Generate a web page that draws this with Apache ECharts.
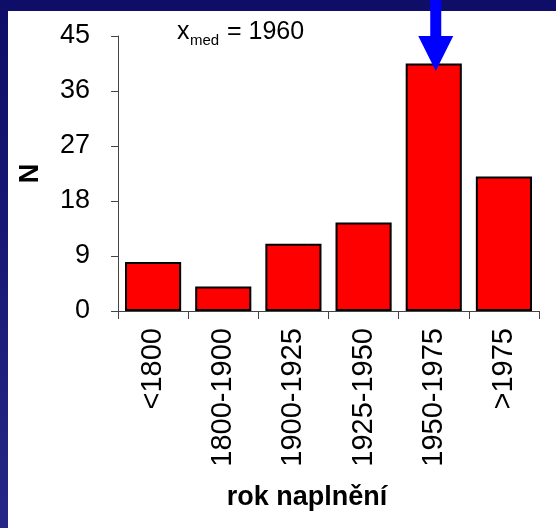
<!DOCTYPE html>
<html>
<head>
<meta charset="utf-8">
<script src="https://cdn.jsdelivr.net/npm/echarts@6/dist/echarts.min.js"></script>
<style>
html,body{margin:0;padding:0;width:556px;height:528px;overflow:hidden;}
body{background:linear-gradient(to bottom,#0e0e69 0%,#1a1a76 50%,#272787 100%);position:relative;}
#panel{position:absolute;left:8px;top:11px;width:548px;height:517px;background:#fff;}
#chart{position:absolute;left:0;top:0;width:556px;height:528px;}
</style>
</head>
<body>
<div id="panel"></div>
<div id="chart"></div>
<script>
const categories = ['<1800', '1800-1900', '1900-1925', '1925-1950', '1950-1975', '>1975'];
const counts = [8, 4, 11, 14.5, 40.5, 22];
const yTicks = { min: 0, max: 45, interval: 9 };
const medianCategory = '1950-1975';
const medianText = '= 1960';

const FONT = "'Liberation Sans', Arial, sans-serif";
const chart = echarts.init(document.getElementById('chart'), null, { renderer: 'canvas' });

const option = {
  backgroundColor: 'transparent',
  animation: false,
  grid: { left: 118, right: 17, top: 36, bottom: 217, containLabel: false },
  xAxis: {
    type: 'category',
    data: categories,
    boundaryGap: true,
    axisLine: { lineStyle: { color: '#444', width: 1 } },
    axisTick: { show: true, length: 8, alignWithLabel: false, lineStyle: { color: '#444' } },
    axisLabel: { rotate: 90, margin: 17, fontSize: 29, color: '#000', fontFamily: FONT, interval: 0 }
  },
  yAxis: {
    type: 'value',
    min: yTicks.min, max: yTicks.max, interval: yTicks.interval,
    name: 'N',
    nameLocation: 'middle',
    nameGap: 74,
    nameRotate: 90,
    nameTextStyle: { fontSize: 27, fontWeight: 'bold', color: '#000', fontFamily: FONT },
    axisLine: { show: true, lineStyle: { color: '#444', width: 1 } },
    axisTick: { show: true, length: 7, lineStyle: { color: '#444' } },
    splitLine: { show: false },
    axisLabel: { margin: 28, fontSize: 27, color: '#000', fontFamily: FONT }
  },
  series: [{
    type: 'bar',
    data: counts,
    barCategoryGap: '20%',
    itemStyle: { color: '#ff0000', borderColor: '#000', borderWidth: 2 }
  }]
};
chart.setOption(option);

const ax = chart.convertToPixel({ xAxisIndex: 0 }, medianCategory) + 2;
chart.setOption({
  graphic: [
    { type: 'text', x: 177, y: 32, z: 10,
      style: { text: 'x', fontSize: 25, fontFamily: FONT, fill: '#000', textAlign: 'left', textVerticalAlign: 'middle', verticalAlign: 'middle' } },
    { type: 'text', x: 190, y: 41, z: 10,
      style: { text: 'med', fontSize: 15, fontFamily: FONT, fill: '#000', textAlign: 'left', textVerticalAlign: 'middle', verticalAlign: 'middle' } },
    { type: 'text', x: 227, y: 32.5, z: 10,
      style: { text: medianText, fontSize: 25, fontFamily: FONT, fill: '#000', textAlign: 'left', textVerticalAlign: 'middle', verticalAlign: 'middle' } },
    { type: 'text', x: 307, y: 497.5, z: 10,
      style: { text: 'rok naplnění', fontSize: 27, fontWeight: 'bold', fontFamily: FONT, fill: '#000', textAlign: 'center', textVerticalAlign: 'middle', verticalAlign: 'middle' } },
    { type: 'polygon', z: 100,
      shape: { points: [
        [ax - 5.5, 0], [ax + 5.5, 0], [ax + 5.5, 36], [ax + 17.5, 36],
        [ax, 71], [ax - 17.5, 36], [ax - 5.5, 36]
      ] },
      style: { fill: '#0000ff' } }
  ]
});
</script>
</body>
</html>
